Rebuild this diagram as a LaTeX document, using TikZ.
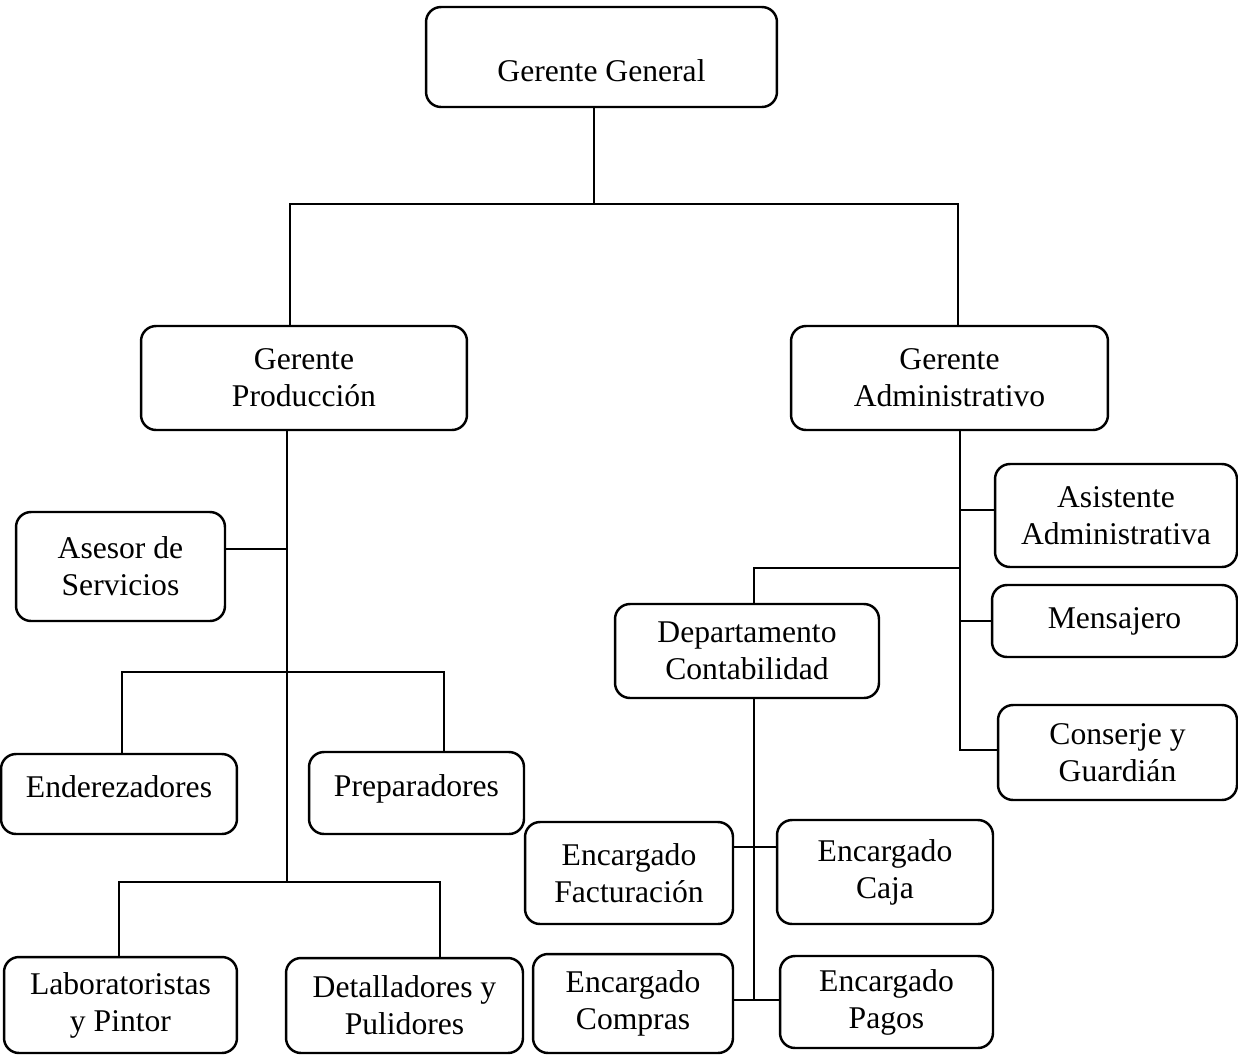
\documentclass[tikz,border=0pt]{standalone}
\usepackage{fontspec}
\setmainfont{Liberation Serif}
\begin{document}
\begin{tikzpicture}[x=0.02cm,y=-0.02cm,
		box/.style={draw, rounded corners=0.3cm, line width=1.4pt, align=center, inner sep=0pt, font=\fontsize{18pt}{21pt}\selectfont},
		line/.style={line width=1.1pt}]
		\useasboundingbox (0,0) rectangle (1238,1055);
		\node[box, minimum width=7.02cm, minimum height=2cm, text height=0.97cm, text depth=0cm] (gg) at (601.5,57) {Gerente General};
		\node[box, minimum width=6.52cm, minimum height=2.08cm] (gp) at (304,378) {Gerente\\Producción};
		\node[box, minimum width=6.34cm, minimum height=2.08cm] (ga) at (949.5,378) {Gerente\\Administrativo};
		\node[box, minimum width=4.18cm, minimum height=2.18cm] (ase) at (120.5,566.5) {Asesor de\\Servicios};
		\node[box, minimum width=4.72cm, minimum height=1.6cm, text depth=0.3cm] (end) at (119,794) {Enderezadores};
		\node[box, minimum width=4.3cm, minimum height=1.64cm, text depth=0.3cm] (pre) at (416.5,793) {Preparadores};
		\node[box, minimum width=4.66cm, minimum height=1.92cm] (lab) at (120.5,1005) {Laboratoristas\\y Pintor};
		\node[box, minimum width=4.74cm, minimum height=1.9cm] (det) at (404.5,1005.5) {Detalladores y\\Pulidores};
		\node[box, minimum width=4.84cm, minimum height=2.06cm] (asi) at (1116,515.5) {Asistente\\Administrativa};
		\node[box, minimum width=4.9cm, minimum height=1.44cm] (men) at (1114.5,621) {Mensajero};
		\node[box, minimum width=4.78cm, minimum height=1.9cm] (con) at (1117.5,752.5) {Conserje y\\Guardián};
		\node[box, minimum width=5.28cm, minimum height=1.88cm] (dep) at (747,651) {Departamento\\Contabilidad};
		\node[box, minimum width=4.16cm, minimum height=2.04cm] (fac) at (629,873) {Encargado\\Facturación};
		\node[box, minimum width=4.32cm, minimum height=2.08cm] (caj) at (885,872) {Encargado\\Caja};
		\node[box, minimum width=4cm, minimum height=1.98cm] (com) at (633,1003.5) {Encargado\\Compras};
		\node[box, minimum width=4.26cm, minimum height=1.84cm] (pag) at (886.5,1002) {Encargado\\Pagos};
		\coordinate (jtop) at (594,204);
		\coordinate (jl) at (290,204);
		\coordinate (jr) at (958,204);
		\coordinate (jp) at (287,882);
		\coordinate (ja) at (960,750);
		\coordinate (jd) at (754,1000);
		\draw[line] (gg.south -| jtop) -- (jtop);
		\draw[line] (gp.north -| jl) -- (jl) -- (jr) -- (ga.north -| jr);
		\draw[line] (gp.south -| jp) -- (jp);
		\draw[line] (ase.east |- 0,549) -- (jp |- 0,549);
		\draw[line] (end.north -| 122,0) -- (122,672) -- (444,672) -- (pre.north -| 444,0);
		\draw[line] (lab.north -| 119,0) -- (119,882) -- (440,882) -- (det.north -| 440,0);
		\draw[line] (ga.south -| ja) -- (ja) -- (con.west |- ja);
		\draw[line] (asi.west |- 0,510) -- (ja |- 0,510);
		\draw[line] (men.west) -- (men.west -| ja);
		\draw[line] (dep.north -| jd) -- (754,568) -- (ja |- 0,568);
		\draw[line] (dep.south -| jd) -- (jd);
		\draw[line] (fac.east |- 0,847) -- (caj.west |- 0,847);
		\draw[line] (com.east |- jd) -- (pag.west |- jd);
		\end{tikzpicture}
\end{document}
